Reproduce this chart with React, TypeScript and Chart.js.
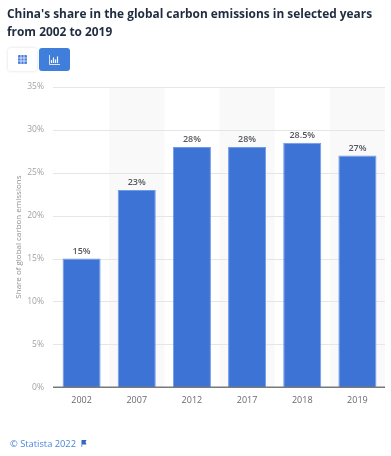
import React, { useEffect, useRef } from "react";
import { Chart, registerables } from "chart.js";

Chart.register(...registerables);

const titleLines = ["China's share in the global carbon emissions in selected years", "from 2002 to 2019"];
const categories = ["2002", "2007", "2012", "2017", "2018", "2019"];
const shares = [15, 23, 28, 28, 28.5, 27];
const valueLabels = ["15%", "23%", "28%", "28%", "28.5%", "27%"];
const axisTitle = "Share of global carbon emissions";
const credit = "© Statista 2022";

const FONT = '"Open Sans", sans-serif';

const decorations = {
  id: "decorations",
  beforeDatasetsDraw(chart: any) {
    const { ctx, chartArea, scales } = chart;
    const x = scales.x;
    const step = x.getPixelForValue(1) - x.getPixelForValue(0);
    ctx.save();
    ctx.fillStyle = "#f9f9fa";
    categories.forEach((_, i) => {
      if (i % 2 === 1) {
        ctx.fillRect(x.getPixelForValue(i) - step / 2, chartArea.top, step, chartArea.bottom - chartArea.top);
      }
    });
    ctx.strokeStyle = "#e6e6e6";
    ctx.lineWidth = 1;
    scales.y.ticks.forEach((t: any) => {
      if (t.value === 0) return;
      const y = Math.round(scales.y.getPixelForValue(t.value)) + 0.5;
      ctx.beginPath();
      ctx.moveTo(chartArea.left - 1, y);
      ctx.lineTo(chartArea.right, y);
      ctx.stroke();
    });
    ctx.restore();
  },
  afterDatasetsDraw(chart: any) {
    const { ctx, chartArea, scales } = chart;
    const meta = chart.getDatasetMeta(0);
    ctx.save();
    ctx.font = `600 9px ${FONT}`;
    ctx.fillStyle = "#55585e";
    ctx.textAlign = "center";
    ctx.textBaseline = "alphabetic";
    meta.data.forEach((el: any, i: number) => {
      ctx.fillText(valueLabels[i], el.x, el.y - 5);
    });
    const base = scales.y.getPixelForValue(0);
    ctx.strokeStyle = "#77797c";
    ctx.lineWidth = 1.5;
    ctx.beginPath();
    ctx.moveTo(chartArea.left - 1, base);
    ctx.lineTo(chartArea.right, base);
    ctx.stroke();
    ctx.restore();
  },
};

export default function App() {
  const ref = useRef<HTMLCanvasElement>(null);
  useEffect(() => {
    const chart = new Chart(ref.current!, {
      type: "bar",
      data: {
        labels: categories,
        datasets: [
          {
            data: shares,
            backgroundColor: "#3e73d6",
            borderColor: "#6f9be8",
            borderWidth: { top: 1, left: 1, right: 1, bottom: 0 },
            barPercentage: 0.69,
            categoryPercentage: 1,
          },
        ],
      },
      options: {
        responsive: false,
        animation: false,
        layout: { padding: { top: 87, right: 6, bottom: 43, left: 14 } },
        plugins: { legend: { display: false }, tooltip: { enabled: false } },
        scales: {
          x: {
            grid: { display: false, drawTicks: false },
            border: { display: false },
            ticks: { color: "#666a70", font: { family: FONT, size: 9 }, padding: 7.5, maxRotation: 0 },
          },
          y: {
            min: 0,
            max: 35,
            afterFit(s: any) {
              s.width = 40;
            },
            grid: { display: false, drawTicks: false },
            border: { display: false },
            title: {
              display: true,
              text: axisTitle,
              color: "#8d9094",
              font: { family: FONT, size: 8 },
              padding: { top: 0, bottom: 0 },
            },
            ticks: {
              stepSize: 5,
              color: "#a0a3a7",
              font: { family: FONT, size: 8.5 },
              padding: 10,
              callback: (v: any) => `${v}%`,
            },
          },
        },
      },
      plugins: [decorations],
    } as any);
    return () => chart.destroy();
  }, []);

  return (
    <div style={{ position: "absolute", left: 0, top: 0, width: 391, height: 456, background: "#fff", overflow: "hidden" }}>
      <canvas ref={ref} width={391} height={456} style={{ position: "absolute", left: 0, top: 0 }} />
      <div
        style={{
          position: "absolute",
          left: 7,
          top: 5,
          width: 384,
          font: `700 11.9px/17.5px ${FONT}`,
          color: "#1f2c3f",
          whiteSpace: "nowrap",
        }}
      >
        {titleLines.map((l) => (
          <div key={l}>{l}</div>
        ))}
      </div>
      <div
        style={{
          position: "absolute",
          left: 8,
          top: 48,
          width: 29,
          height: 23,
          background: "#fff",
          borderRadius: 3,
          boxShadow: "0 0 3px rgba(0,0,0,0.15)",
          display: "flex",
          alignItems: "center",
          justifyContent: "center",
        }}
      >
        <svg width="9" height="9" viewBox="0 0 9 9">
          <rect width="9" height="9" rx="1" fill="#4a7fdc" />
          <path d="M0 3H9M0 6H9M3 0V9M6 0V9" stroke="#fff" strokeWidth="0.7" />
        </svg>
      </div>
      <div
        style={{
          position: "absolute",
          left: 39,
          top: 48,
          width: 31,
          height: 23,
          background: "#3f7edb",
          borderRadius: 3,
          display: "flex",
          alignItems: "center",
          justifyContent: "center",
        }}
      >
        <svg width="11" height="10" viewBox="0 0 11 10">
          <path d="M0.5 0V9.5H11" stroke="#fff" strokeWidth="0.8" fill="none" />
          <path d="M2.5 8V5M4.5 8V2.5M6.5 8V4.5M8.5 8V1.5" stroke="#fff" strokeWidth="1.2" />
        </svg>
      </div>
      <div
        style={{
          position: "absolute",
          left: 10,
          top: 437,
          font: `400 9.3px/13px ${FONT}`,
          color: "#4a85dc",
          whiteSpace: "nowrap",
        }}
      >
        {credit}
        <svg width="6" height="7" viewBox="0 0 6 7" style={{ marginLeft: 5 }}>
          <path d="M0.5 0H5.5L4.5 2L5.5 4.5H1.2V7H0.5Z" fill="#2f68c4" />
        </svg>
      </div>
    </div>
  );
}
